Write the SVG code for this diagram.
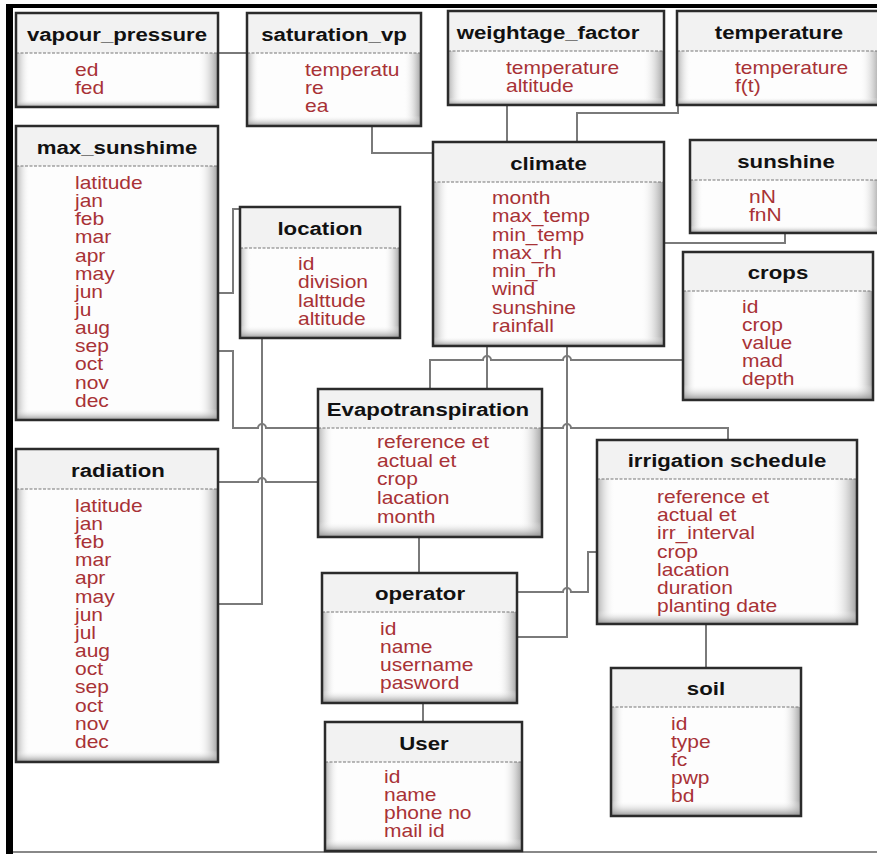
<svg xmlns="http://www.w3.org/2000/svg" width="877" height="854" viewBox="0 0 877 854">
<defs>
<linearGradient id="gh" x1="0" y1="0" x2="1" y2="0">
<stop offset="0" stop-color="#a8a8a8" stop-opacity="0.9"/>
<stop offset="0.07" stop-color="#ffffff" stop-opacity="0"/>
<stop offset="0.9" stop-color="#ffffff" stop-opacity="0"/>
<stop offset="1" stop-color="#9a9a9a" stop-opacity="0.95"/>
</linearGradient>
<linearGradient id="gv" x1="0" y1="0" x2="0" y2="1">
<stop offset="0" stop-color="#ffffff" stop-opacity="0"/>
<stop offset="0.86" stop-color="#ffffff" stop-opacity="0"/>
<stop offset="1" stop-color="#888888" stop-opacity="0.9"/>
</linearGradient>
<style>
.bd{fill:#fdfdfd}
.sh{fill:url(#gh)}
.sv{fill:url(#gv)}
.hdr{fill:#f2f2f2}
.sep{stroke:#777;stroke-width:1.2;stroke-dasharray:3 1.5}
.fr{fill:none;stroke:#2b2b2b;stroke-width:2.5}
.ttl{font-family:"Liberation Sans",Arial,sans-serif;font-weight:bold;font-size:19px;fill:#111;text-anchor:middle}
.att{font-family:"Liberation Sans",Arial,sans-serif;font-size:17.5px;fill:#a83236}
.con{fill:none;stroke:#7a7a7a;stroke-width:2}
</style>
</defs>
<rect x="0" y="0" width="877" height="854" fill="#ffffff"/>
<rect x="6" y="4" width="871" height="4" fill="#000"/>
<rect x="6" y="4" width="7" height="850" fill="#000"/>
<rect x="13" y="851" width="864" height="2" fill="#888"/>

<g id="connectors">
<path class="con" d="M218,53 H247"/>
<path class="con" d="M372,126 V153 H433"/>
<path class="con" d="M507,105 V142"/>
<path class="con" d="M678,105 V113 H577 V142"/>
<path class="con" d="M664,243 H785 V233"/>
<path class="con" d="M218,293 H233 V209 H240"/>
<path class="con" d="M218,351 H233 V428 H258 A4,4 0 0 1 266,428 H318"/>
<path class="con" d="M542,428 H563 A4,4 0 0 1 571,428 H728 V440"/>
<path class="con" d="M262,338 V604 H218"/>
<path class="con" d="M218,482 H258 A4,4 0 0 1 266,482 H318"/>
<path class="con" d="M487,346 V389"/>
<path class="con" d="M430,389 V360 H483 A4,4 0 0 1 491,360 H563 A4,4 0 0 1 571,360 H683"/>
<path class="con" d="M567,346 V637 H517"/>
<path class="con" d="M517,592 H563 A4,4 0 0 1 571,592 H588 V552 H597"/>
<path class="con" d="M419,537 V573"/>
<path class="con" d="M423,703 V722"/>
<path class="con" d="M706,624 V668"/>
</g>

<g id="vapour_pressure">
<rect class="bd" x="16" y="13" width="202" height="94"/><rect class="sh" x="16" y="53" width="202" height="54"/><rect class="sv" x="16" y="53" width="202" height="54"/>
<rect class="hdr" x="16" y="13" width="202" height="40"/><line class="sep" x1="16" y1="53" x2="218" y2="53"/><rect class="fr" x="16" y="13" width="202" height="94"/>
<g transform="translate(117,40.5) scale(1.17,1)"><text class="ttl">vapour_pressure</text></g>
<g transform="translate(75,0) scale(1.2,1)"><text class="att" x="0" y="76">ed</text><text class="att" x="0" y="94">fed</text></g>
</g>

<g id="saturation_vp">
<rect class="bd" x="247" y="13" width="174" height="113"/><rect class="sh" x="247" y="53" width="174" height="73"/><rect class="sv" x="247" y="53" width="174" height="73"/>
<rect class="hdr" x="247" y="13" width="174" height="40"/><line class="sep" x1="247" y1="53" x2="421" y2="53"/><rect class="fr" x="247" y="13" width="174" height="113"/>
<g transform="translate(334,40.5) scale(1.17,1)"><text class="ttl">saturation_vp</text></g>
<g transform="translate(305,0) scale(1.2,1)"><text class="att" x="0" y="76">temperatu</text><text class="att" x="0" y="94">re</text><text class="att" x="0" y="112">ea</text></g>
</g>

<g id="weightage_factor">
<rect class="bd" x="448" y="11" width="216" height="94"/><rect class="sh" x="448" y="51" width="216" height="54"/><rect class="sv" x="448" y="51" width="216" height="54"/>
<rect class="hdr" x="448" y="11" width="216" height="40"/><line class="sep" x1="448" y1="51" x2="664" y2="51"/><rect class="fr" x="448" y="11" width="216" height="94"/>
<g transform="translate(548,38.5) scale(1.17,1)"><text class="ttl">weightage_factor</text></g>
<g transform="translate(506,0) scale(1.2,1)"><text class="att" x="0" y="74">temperature</text><text class="att" x="0" y="92">altitude</text></g>
</g>

<g id="temperature">
<rect class="bd" x="677" y="11" width="203" height="94"/><rect class="sh" x="677" y="51" width="203" height="54"/><rect class="sv" x="677" y="51" width="203" height="54"/>
<rect class="hdr" x="677" y="11" width="203" height="40"/><line class="sep" x1="677" y1="51" x2="880" y2="51"/><rect class="fr" x="677" y="11" width="203" height="94"/>
<g transform="translate(779,38.5) scale(1.17,1)"><text class="ttl">temperature</text></g>
<g transform="translate(735,0) scale(1.2,1)"><text class="att" x="0" y="74">temperature</text><text class="att" x="0" y="92">f(t)</text></g>
</g>

<g id="max_sunshime">
<rect class="bd" x="16" y="126" width="202" height="294"/><rect class="sh" x="16" y="166" width="202" height="254"/><rect class="sv" x="16" y="340" width="202" height="80"/>
<rect class="hdr" x="16" y="126" width="202" height="40"/><line class="sep" x1="16" y1="166" x2="218" y2="166"/><rect class="fr" x="16" y="126" width="202" height="294"/>
<g transform="translate(117,153.5) scale(1.17,1)"><text class="ttl">max_sunshime</text></g>
<g transform="translate(75,0) scale(1.2,1)">
<text class="att" x="0" y="189">latitude</text><text class="att" x="0" y="207.2">jan</text><text class="att" x="0" y="225.3">feb</text><text class="att" x="0" y="243.5">mar</text><text class="att" x="0" y="261.6">apr</text><text class="att" x="0" y="279.8">may</text><text class="att" x="0" y="297.9">jun</text><text class="att" x="0" y="316.1">ju</text><text class="att" x="0" y="334.2">aug</text><text class="att" x="0" y="352.4">sep</text><text class="att" x="0" y="370.5">oct</text><text class="att" x="0" y="388.7">nov</text><text class="att" x="0" y="406.8">dec</text>
</g>
</g>

<g id="climate">
<rect class="bd" x="433" y="142" width="231" height="204"/><rect class="sh" x="433" y="182" width="231" height="164"/><rect class="sv" x="433" y="280" width="231" height="66"/>
<rect class="hdr" x="433" y="142" width="231" height="40"/><line class="sep" x1="433" y1="182" x2="664" y2="182"/><rect class="fr" x="433" y="142" width="231" height="204"/>
<g transform="translate(548.5,169.5) scale(1.17,1)"><text class="ttl">climate</text></g>
<g transform="translate(492,0) scale(1.2,1)">
<text class="att" x="0" y="204">month</text><text class="att" x="0" y="222.3">max_temp</text><text class="att" x="0" y="240.6">min_temp</text><text class="att" x="0" y="258.9">max_rh</text><text class="att" x="0" y="277.2">min_rh</text><text class="att" x="0" y="295.5">wind</text><text class="att" x="0" y="313.8">sunshine</text><text class="att" x="0" y="332">rainfall</text>
</g>
</g>

<g id="sunshine">
<rect class="bd" x="690" y="140" width="190" height="93"/><rect class="sh" x="690" y="180" width="190" height="53"/><rect class="sv" x="690" y="180" width="190" height="53"/>
<rect class="hdr" x="690" y="140" width="190" height="40"/><line class="sep" x1="690" y1="180" x2="880" y2="180"/><rect class="fr" x="690" y="140" width="190" height="93"/>
<g transform="translate(786,167.5) scale(1.17,1)"><text class="ttl">sunshine</text></g>
<g transform="translate(749,0) scale(1.2,1)"><text class="att" x="0" y="203">nN</text><text class="att" x="0" y="221.5">fnN</text></g>
</g>

<g id="location">
<rect class="bd" x="240" y="207" width="160" height="131"/><rect class="sh" x="240" y="248" width="160" height="90"/><rect class="sv" x="240" y="248" width="160" height="90"/>
<rect class="hdr" x="240" y="207" width="160" height="41"/><line class="sep" x1="240" y1="248" x2="400" y2="248"/><rect class="fr" x="240" y="207" width="160" height="131"/>
<g transform="translate(320,234.5) scale(1.17,1)"><text class="ttl">location</text></g>
<g transform="translate(298,0) scale(1.2,1)"><text class="att" x="0" y="270">id</text><text class="att" x="0" y="288.3">division</text><text class="att" x="0" y="306.6">lalttude</text><text class="att" x="0" y="325">altitude</text></g>
</g>

<g id="crops">
<rect class="bd" x="683" y="252" width="190" height="148"/><rect class="sh" x="683" y="291" width="190" height="109"/><rect class="sv" x="683" y="291" width="190" height="109"/>
<rect class="hdr" x="683" y="252" width="190" height="39"/><line class="sep" x1="683" y1="291" x2="873" y2="291"/><rect class="fr" x="683" y="252" width="190" height="148"/>
<g transform="translate(778,279) scale(1.17,1)"><text class="ttl">crops</text></g>
<g transform="translate(742,0) scale(1.2,1)"><text class="att" x="0" y="313">id</text><text class="att" x="0" y="331">crop</text><text class="att" x="0" y="349">value</text><text class="att" x="0" y="367">mad</text><text class="att" x="0" y="385">depth</text></g>
</g>

<g id="evapotranspiration">
<rect class="bd" x="318" y="389" width="224" height="148"/><rect class="sh" x="318" y="428" width="224" height="109"/><rect class="sv" x="318" y="428" width="224" height="109"/>
<rect class="hdr" x="318" y="389" width="224" height="39"/><line class="sep" x1="318" y1="428" x2="542" y2="428"/><rect class="fr" x="318" y="389" width="224" height="148"/>
<g transform="translate(428,415.5) scale(1.17,1)"><text class="ttl">Evapotranspiration</text></g>
<g transform="translate(377,0) scale(1.2,1)"><text class="att" x="0" y="448">reference et</text><text class="att" x="0" y="466.7">actual et</text><text class="att" x="0" y="485.4">crop</text><text class="att" x="0" y="504.1">lacation</text><text class="att" x="0" y="523">month</text></g>
</g>

<g id="irrigation_schedule">
<rect class="bd" x="597" y="440" width="260" height="184"/><rect class="sh" x="597" y="479" width="260" height="145"/><rect class="sv" x="597" y="530" width="260" height="94"/>
<rect class="hdr" x="597" y="440" width="260" height="39"/><line class="sep" x1="597" y1="479" x2="857" y2="479"/><rect class="fr" x="597" y="440" width="260" height="184"/>
<g transform="translate(727,466.5) scale(1.17,1)"><text class="ttl">irrigation schedule</text></g>
<g transform="translate(657,0) scale(1.2,1)"><text class="att" x="0" y="503">reference et</text><text class="att" x="0" y="521.2">actual et</text><text class="att" x="0" y="539.4">irr_interval</text><text class="att" x="0" y="557.6">crop</text><text class="att" x="0" y="575.8">lacation</text><text class="att" x="0" y="594">duration</text><text class="att" x="0" y="612">planting date</text></g>
</g>

<g id="radiation">
<rect class="bd" x="16" y="449" width="202" height="313"/><rect class="sh" x="16" y="489" width="202" height="273"/><rect class="sv" x="16" y="680" width="202" height="82"/>
<rect class="hdr" x="16" y="449" width="202" height="40"/><line class="sep" x1="16" y1="489" x2="218" y2="489"/><rect class="fr" x="16" y="449" width="202" height="313"/>
<g transform="translate(118,476.5) scale(1.17,1)"><text class="ttl">radiation</text></g>
<g transform="translate(75,0) scale(1.2,1)">
<text class="att" x="0" y="511.7">latitude</text><text class="att" x="0" y="529.9">jan</text><text class="att" x="0" y="548.1">feb</text><text class="att" x="0" y="566.2">mar</text><text class="att" x="0" y="584.4">apr</text><text class="att" x="0" y="602.6">may</text><text class="att" x="0" y="620.8">jun</text><text class="att" x="0" y="639">jul</text><text class="att" x="0" y="657.2">aug</text><text class="att" x="0" y="675.3">oct</text><text class="att" x="0" y="693.5">sep</text><text class="att" x="0" y="711.7">oct</text><text class="att" x="0" y="729.9">nov</text><text class="att" x="0" y="748">dec</text>
</g>
</g>

<g id="operator">
<rect class="bd" x="322" y="573" width="195" height="130"/><rect class="sh" x="322" y="612" width="195" height="91"/><rect class="sv" x="322" y="612" width="195" height="91"/>
<rect class="hdr" x="322" y="573" width="195" height="39"/><line class="sep" x1="322" y1="612" x2="517" y2="612"/><rect class="fr" x="322" y="573" width="195" height="130"/>
<g transform="translate(420,599.5) scale(1.17,1)"><text class="ttl">operator</text></g>
<g transform="translate(380,0) scale(1.2,1)"><text class="att" x="0" y="635">id</text><text class="att" x="0" y="653">name</text><text class="att" x="0" y="671">username</text><text class="att" x="0" y="689">pasword</text></g>
</g>

<g id="user">
<rect class="bd" x="325" y="722" width="197" height="129"/><rect class="sh" x="325" y="762" width="197" height="89"/><rect class="sv" x="325" y="762" width="197" height="89"/>
<rect class="hdr" x="325" y="722" width="197" height="40"/><line class="sep" x1="325" y1="762" x2="522" y2="762"/><rect class="fr" x="325" y="722" width="197" height="129"/>
<g transform="translate(424,749.5) scale(1.17,1)"><text class="ttl">User</text></g>
<g transform="translate(384,0) scale(1.2,1)"><text class="att" x="0" y="783">id</text><text class="att" x="0" y="801">name</text><text class="att" x="0" y="819">phone no</text><text class="att" x="0" y="837">mail id</text></g>
</g>

<g id="soil">
<rect class="bd" x="611" y="668" width="190" height="148"/><rect class="sh" x="611" y="707" width="190" height="109"/><rect class="sv" x="611" y="707" width="190" height="109"/>
<rect class="hdr" x="611" y="668" width="190" height="39"/><line class="sep" x1="611" y1="707" x2="801" y2="707"/><rect class="fr" x="611" y="668" width="190" height="148"/>
<g transform="translate(706,694.5) scale(1.17,1)"><text class="ttl">soil</text></g>
<g transform="translate(671,0) scale(1.2,1)"><text class="att" x="0" y="730">id</text><text class="att" x="0" y="748">type</text><text class="att" x="0" y="766">fc</text><text class="att" x="0" y="784">pwp</text><text class="att" x="0" y="802">bd</text></g>
</g>
</svg>
